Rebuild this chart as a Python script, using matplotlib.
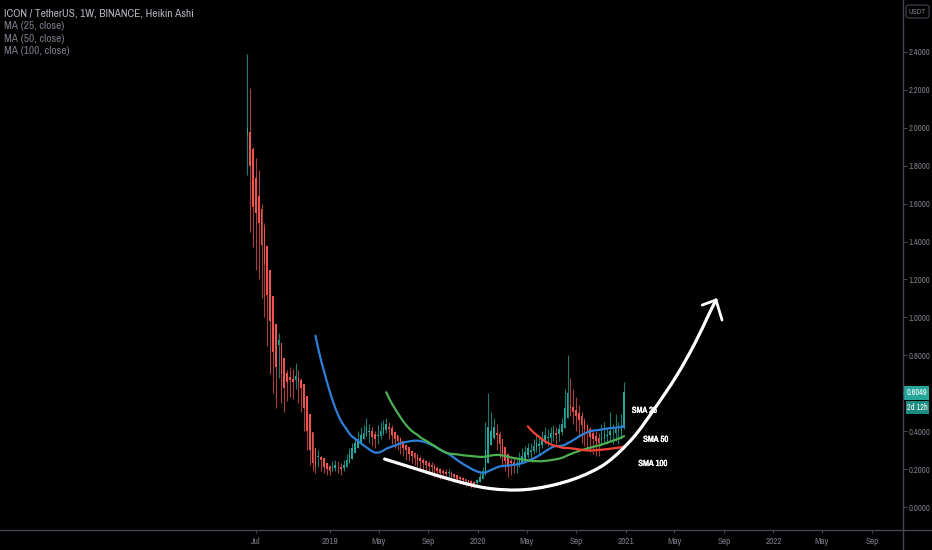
import matplotlib
matplotlib.use('Agg')
import numpy as np
import pandas as pd
import matplotlib.pyplot as plt
import matplotlib.dates as mdates
import matplotlib.patheffects as pe
from matplotlib import font_manager
from matplotlib.path import Path
from matplotlib.patches import PathPatch, Rectangle, FancyBboxPatch
from matplotlib.lines import Line2D

# weekly Heikin Ashi candles, ICX/USDT
START_WEEK = '2018-06-11'
FIRST_OPEN = 1.96

ha_close = [2.00, 1.80, 1.58, 1.55, 1.50, 1.38, 1.28, 1.12, 0.98, 0.82,
            0.74, 0.88, 0.70, 0.63, 0.66, 0.67, 0.66, 0.69, 0.66, 0.63,
            0.52, 0.40, 0.30, 0.23, 0.21, 0.27, 0.25, 0.21, 0.20, 0.19,
            0.21, 0.22, 0.21, 0.20, 0.22, 0.25, 0.28, 0.31, 0.34, 0.36,
            0.38, 0.39, 0.42, 0.40, 0.37, 0.36, 0.38, 0.40, 0.42, 0.44,
            0.41, 0.38, 0.36, 0.35, 0.33, 0.31, 0.30, 0.28, 0.27, 0.26,
            0.25, 0.24, 0.23, 0.22, 0.215, 0.21, 0.20, 0.19, 0.18, 0.18,
            0.175, 0.18, 0.17, 0.16, 0.15, 0.15, 0.14, 0.135, 0.13, 0.125,
            0.12, 0.14, 0.16, 0.19, 0.30, 0.42, 0.40, 0.42, 0.38, 0.33,
            0.28, 0.24, 0.21, 0.23, 0.22, 0.23, 0.25, 0.27, 0.29, 0.31,
            0.30, 0.32, 0.34, 0.33, 0.36, 0.38, 0.37, 0.39, 0.40, 0.38,
            0.41, 0.44, 0.52, 0.60, 0.52, 0.50, 0.48, 0.46, 0.43, 0.41,
            0.39, 0.37, 0.36, 0.35, 0.34, 0.37, 0.39, 0.38, 0.40, 0.39,
            0.41, 0.40, 0.43, 0.6049]

ha_high = [2.39, 2.21, 1.90, 1.84, 1.78, 1.60, 1.50, 1.38, 1.20, 1.05,
           0.90, 0.92, 0.80, 0.74, 0.72, 0.74, 0.73, 0.76, 0.72, 0.68,
           0.62, 0.54, 0.43, 0.34, 0.28, 0.30, 0.27, 0.25, 0.23, 0.22,
           0.24, 0.25, 0.24, 0.23, 0.25, 0.28, 0.31, 0.34, 0.37, 0.40,
           0.42, 0.43, 0.47, 0.44, 0.42, 0.40, 0.43, 0.45, 0.46, 0.47,
           0.45, 0.43, 0.40, 0.38, 0.37, 0.35, 0.33, 0.31, 0.30, 0.29,
           0.28, 0.27, 0.26, 0.25, 0.24, 0.235, 0.225, 0.215, 0.205, 0.20,
           0.20, 0.20, 0.19, 0.18, 0.17, 0.165, 0.16, 0.15, 0.145, 0.14,
           0.135, 0.15, 0.18, 0.21, 0.45, 0.60, 0.50, 0.47, 0.44, 0.40,
           0.35, 0.31, 0.27, 0.26, 0.26, 0.26, 0.29, 0.31, 0.32, 0.34,
           0.34, 0.36, 0.38, 0.38, 0.40, 0.42, 0.41, 0.42, 0.43, 0.42,
           0.44, 0.47, 0.62, 0.80, 0.68, 0.62, 0.58, 0.54, 0.50, 0.47,
           0.44, 0.42, 0.40, 0.40, 0.39, 0.44, 0.45, 0.42, 0.50, 0.44,
           0.49, 0.45, 0.49, 0.66]

ha_low = [1.75, 1.45, 1.37, 1.25, 1.20, 1.10, 1.00, 0.85, 0.70, 0.60,
          0.52, 0.68, 0.55, 0.50, 0.56, 0.58, 0.57, 0.62, 0.55, 0.50,
          0.40, 0.30, 0.22, 0.19, 0.18, 0.21, 0.19, 0.18, 0.17, 0.17,
          0.19, 0.19, 0.18, 0.17, 0.19, 0.22, 0.25, 0.28, 0.31, 0.33,
          0.35, 0.36, 0.38, 0.34, 0.32, 0.31, 0.33, 0.36, 0.38, 0.39,
          0.36, 0.33, 0.31, 0.30, 0.28, 0.27, 0.25, 0.24, 0.23, 0.22,
          0.21, 0.20, 0.19, 0.18, 0.18, 0.17, 0.16, 0.16, 0.15, 0.15,
          0.16, 0.15, 0.14, 0.13, 0.13, 0.12, 0.12, 0.11, 0.11, 0.10,
          0.10, 0.12, 0.13, 0.16, 0.20, 0.28, 0.34, 0.36, 0.30, 0.26,
          0.22, 0.19, 0.16, 0.17, 0.18, 0.18, 0.21, 0.23, 0.25, 0.26,
          0.26, 0.28, 0.29, 0.28, 0.31, 0.33, 0.32, 0.34, 0.35, 0.33,
          0.35, 0.38, 0.42, 0.50, 0.48, 0.44, 0.40, 0.37, 0.34, 0.32,
          0.30, 0.29, 0.28, 0.27, 0.27, 0.32, 0.34, 0.33, 0.35, 0.33,
          0.35, 0.33, 0.36, 0.41]

ma_periods = [25, 50, 100]
ma_colors = ['#2e7fd8', '#4caf50', '#f44336']

tick_dates = ['2018-07-01', '2019-01-01', '2019-05-01', '2019-09-01', '2020-01-01',
              '2020-05-01', '2020-09-01', '2021-01-01', '2021-05-01', '2021-09-01',
              '2022-01-01', '2022-05-01', '2022-09-01']
tick_labels = ['Jul', '2019', 'May', 'Sep', '2020', 'May', 'Sep', '2021', 'May', 'Sep',
               '2022', 'May', 'Sep']
# 0.6000 sits under the last price tag, so it is not shown
price_ticks = [0.0, 0.2, 0.4, 0.8, 1.0, 1.2, 1.4, 1.6, 1.8, 2.0, 2.2, 2.4]

# hand drawn cup arc + arrow
arc_dates = ['2019-05-16', '2019-08-11', '2019-10-31', '2020-01-23', '2020-04-13',
             '2020-06-26', '2020-09-08', '2020-11-14', '2021-01-17', '2021-03-12',
             '2021-05-06', '2021-06-20', '2021-07-24', '2021-08-12']
arc_prices = [0.253, 0.195, 0.142, 0.100, 0.090, 0.111, 0.158, 0.232, 0.360, 0.515,
              0.690, 0.860, 1.010, 1.092]
head_dates = ['2021-07-09', '2021-08-12', '2021-08-27']
head_prices = [1.065, 1.092, 0.986]

ma_notes = ['SMA 25', 'SMA 50', 'SMA 100']
note_dates = ['2021-01-16', '2021-02-13', '2021-02-01']
note_prices = [0.51, 0.357, 0.230]

legend_lines = ['MA (25, close)', 'MA (50, close)', 'MA (100, close)']

UP = '#26a69a'
DOWN = '#ef5350'
UP_WICK = '#1d7a70'
DOWN_WICK = '#a5403d'
AXIS_LINE = '#434651'
TXT = '#787b86'

W, H = 932, 550
PX_PER_DAY = 0.4046


def narrow_font():
    fonts = font_manager.fontManager.ttflist
    for f in fonts:
        if 'Narrow' in f.name or 'Condensed' in f.name:
            return {'family': f.name}
    for f in fonts:
        if f.name == 'DejaVu Sans' and 'condensed' in str(f.stretch):
            return {'family': 'DejaVu Sans', 'stretch': 'condensed'}
    return {'family': 'Roboto'}


NARROW = narrow_font()


def fx(px):
    return px / W


def fy(py):
    return 1 - py / H


close = np.array(ha_close)
opens = [FIRST_OPEN]
for i in range(1, len(close)):
    opens.append((opens[-1] + close[i - 1]) / 2)
opens = np.array(opens)
highs = np.maximum.reduce([np.array(ha_high), opens, close])
lows = np.minimum.reduce([np.array(ha_low), opens, close])

dates = pd.date_range(START_WEEK, periods=len(close), freq='7D')
xd = mdates.date2num(dates)
up = close >= opens
colors = np.where(up, UP, DOWN)
wick_colors = np.where(up, UP_WICK, DOWN_WICK)

fig = plt.figure(figsize=(W / 100, H / 100), dpi=100, facecolor='black')
ax = fig.add_axes([0, 20 / H, 903 / W, 530 / H], facecolor='black')

x0 = mdates.date2num(pd.Timestamp('2019-01-01')) - 330 / PX_PER_DAY
ax.set_xlim(x0, x0 + 903 / PX_PER_DAY)
ax.set_ylim(-0.1213, 2.674)

ax.vlines(xd, lows, highs, colors=wick_colors, linewidth=0.8, zorder=2)
body = close - opens
body = np.where(np.abs(body) < 0.004, np.sign(body + 1e-9) * 0.004, body)
ax.bar(xd, body, bottom=opens, width=4.0, color=colors, linewidth=0, zorder=3)

s = pd.Series(close)
for n, col in zip(ma_periods, ma_colors):
    ax.plot(xd, s.rolling(n).mean(), color=col, linewidth=1.6, zorder=4,
            solid_capstyle='round')

for txt, d, p in zip(ma_notes, note_dates, note_prices):
    ax.text(mdates.date2num(pd.Timestamp(d)), p, txt, color='white', fontsize=6.2,
            fontweight='bold', va='center', ha='left', zorder=5,
            path_effects=[pe.withStroke(linewidth=0.3, foreground='white')], **NARROW)

# arc through the points (catmull-rom as cubic bezier)
pts = np.column_stack([mdates.date2num(pd.to_datetime(arc_dates)), arc_prices])
ext = np.vstack([2 * pts[0] - pts[1], pts, 2 * pts[-1] - pts[-2]])
verts = [pts[0]]
codes = [Path.MOVETO]
for k in range(1, len(ext) - 2):
    c1 = ext[k] + (ext[k + 1] - ext[k - 1]) / 6
    c2 = ext[k + 1] - (ext[k + 2] - ext[k]) / 6
    verts += [c1, c2, ext[k + 1]]
    codes += [Path.CURVE4] * 3
ax.add_patch(PathPatch(Path(verts, codes), facecolor='none', edgecolor='white',
                       linewidth=2.3, capstyle='round', zorder=6))
ax.plot(mdates.date2num(pd.to_datetime(head_dates)), head_prices, color='white',
        linewidth=2.0, solid_capstyle='round', solid_joinstyle='round', zorder=6)

for sp in ax.spines.values():
    sp.set_visible(False)

ax.yaxis.tick_right()
ax.set_yticks(price_ticks)
ax.set_yticklabels([f'{v:.4f}' for v in price_ticks], **NARROW)
ax.tick_params(axis='y', colors=AXIS_LINE, labelcolor=TXT, length=3, width=0.8,
               labelsize=6.3, pad=1.0)
ax.set_xticks(mdates.date2num(pd.to_datetime(tick_dates)))
ax.set_xticklabels(tick_labels, **NARROW)
ax.tick_params(axis='x', colors=AXIS_LINE, labelcolor=TXT, length=2.5, width=0.8,
               labelsize=6.6, pad=2.8)

# axis lines across the whole figure
fig.add_artist(Line2D([0, 1], [fy(530), fy(530)], color=AXIS_LINE, linewidth=1.0))
fig.add_artist(Line2D([fx(903), fx(903)], [0, 1], color=AXIS_LINE, linewidth=1.0))
fig.add_artist(Line2D([fx(903), fx(906)], [fy(392.5), fy(392.5)], color=UP, linewidth=0.8))

# legend lines top left
fig.text(fx(4), fy(13), 'ICON / TetherUS, 1W, BINANCE, Heikin Ashi', color='#b2b5be',
         fontsize=8.2, va='center', **NARROW)
for k, lab in enumerate(legend_lines):
    fig.text(fx(4), fy(26 + 12.5 * k), lab, color=TXT, fontsize=8.2, va='center', **NARROW)

# currency box
fig.add_artist(FancyBboxPatch((fx(906), fy(18)), fx(23), 13 / H,
                              boxstyle='round,pad=0,rounding_size=0.004',
                              facecolor='none', edgecolor=AXIS_LINE, linewidth=0.8,
                              transform=fig.transFigure))
fig.text(fx(917.5), fy(11.5), 'USDT', color=TXT, fontsize=5.6, ha='center', va='center',
         **NARROW)

# last price tags
fig.add_artist(Rectangle((fx(904), fy(399.5)), fx(25), 14 / H, facecolor=UP,
                         edgecolor='none', transform=fig.transFigure))
fig.text(fx(916.5), fy(392.3), '0.6049', color='white', fontsize=5.9, ha='center',
         va='center', **NARROW)
fig.add_artist(Rectangle((fx(906), fy(414)), fx(23), 13 / H, facecolor='#1f8c81',
                         edgecolor='none', transform=fig.transFigure))
fig.text(fx(917.5), fy(407.8), '2d 12h', color='white', fontsize=5.9, ha='center',
         va='center', **NARROW)

fig.savefig('out.png', dpi=100, facecolor='black')
